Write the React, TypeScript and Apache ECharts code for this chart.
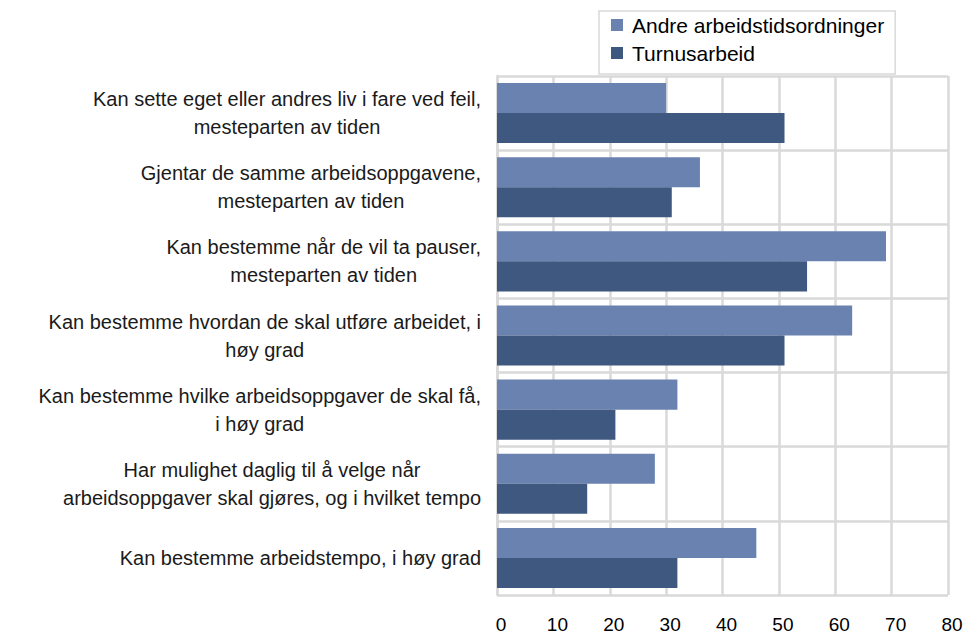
import React, { useEffect, useRef } from "react";
import * as echarts from "echarts";

const categories = [
  "Kan sette eget eller andres liv i fare ved feil,\nmesteparten av tiden",
  "Gjentar de samme arbeidsoppgavene,\nmesteparten av tiden",
  "Kan bestemme når de vil ta pauser,\nmesteparten av tiden",
  "Kan bestemme hvordan de skal utføre arbeidet, i\nhøy grad",
  "Kan bestemme hvilke arbeidsoppgaver de skal få,\ni høy grad",
  "Har mulighet daglig til å velge når\narbeidsoppgaver skal gjøres, og i hvilket tempo",
  "Kan bestemme arbeidstempo, i høy grad",
];

const andreValues = [30, 36, 69, 63, 32, 28, 46];
const turnusValues = [51, 31, 55, 51, 21, 16, 32];

const seriesNames = ["Andre arbeidstidsordninger", "Turnusarbeid"];

export default function App() {
  const ref = useRef<HTMLDivElement>(null);
  useEffect(() => {
    document.body.style.margin = "0";
    if (!ref.current) return;
    const chart = echarts.init(ref.current, null, { renderer: "svg" });
    const font = "Liberation Sans, Arial, sans-serif";
    chart.setOption({
      animation: false,
      backgroundColor: "#ffffff",
      legend: {
        orient: "vertical",
        left: 599,
        top: 11,
        padding: [3, 11, 10, 12],
        borderColor: "#d9d9d9",
        borderWidth: 1.5,
        itemWidth: 12,
        itemHeight: 12,
        itemGap: 6,
        icon: "rect",
        data: seriesNames,
        textStyle: {
          fontFamily: font,
          fontSize: 21,
          color: "#000",
          lineHeight: 22,
          padding: [0, 0, 0, 4],
        },
      },
      grid: { left: 497, right: 20, top: 76, bottom: 40, containLabel: false },
      xAxis: {
        type: "value",
        min: 0,
        max: 80,
        interval: 10,
        axisLine: { show: false },
        axisTick: { show: false },
        splitLine: { show: true, lineStyle: { color: "#d9d9d9", width: 2.5 } },
        axisLabel: {
          fontFamily: font,
          fontSize: 19,
          color: "#000",
          margin: 20,
          padding: [0, 0, 0, 8],
        },
      },
      yAxis: {
        type: "category",
        inverse: true,
        data: categories,
        axisLine: { show: true, lineStyle: { color: "#d9d9d9", width: 2.5 } },
        axisTick: { show: false },
        splitLine: { show: true, interval: 0, lineStyle: { color: "#d9d9d9", width: 2.5 } },
        axisLabel: {
          align: "right",
          margin: 16,
          formatter: (v: string) =>
            v
              .split("\n")
              .map((l) => `{c|${l}}`)
              .join("\n"),
          rich: {
            c: {
              align: "center",
              fontFamily: font,
              fontSize: 20,
              lineHeight: 28,
              color: "#1a1a1a",
            },
          },
        },
      },
      series: [
        {
          name: seriesNames[0],
          type: "bar",
          data: andreValues,
          itemStyle: { color: "#6a82b0" },
          barGap: "0%",
          barCategoryGap: "19%",
        },
        {
          name: seriesNames[1],
          type: "bar",
          data: turnusValues,
          itemStyle: { color: "#3e5880" },
          barGap: "0%",
          barCategoryGap: "19%",
        },
      ],
    });
    return () => chart.dispose();
  }, []);
  return <div ref={ref} style={{ width: 968, height: 635 }} />;
}
